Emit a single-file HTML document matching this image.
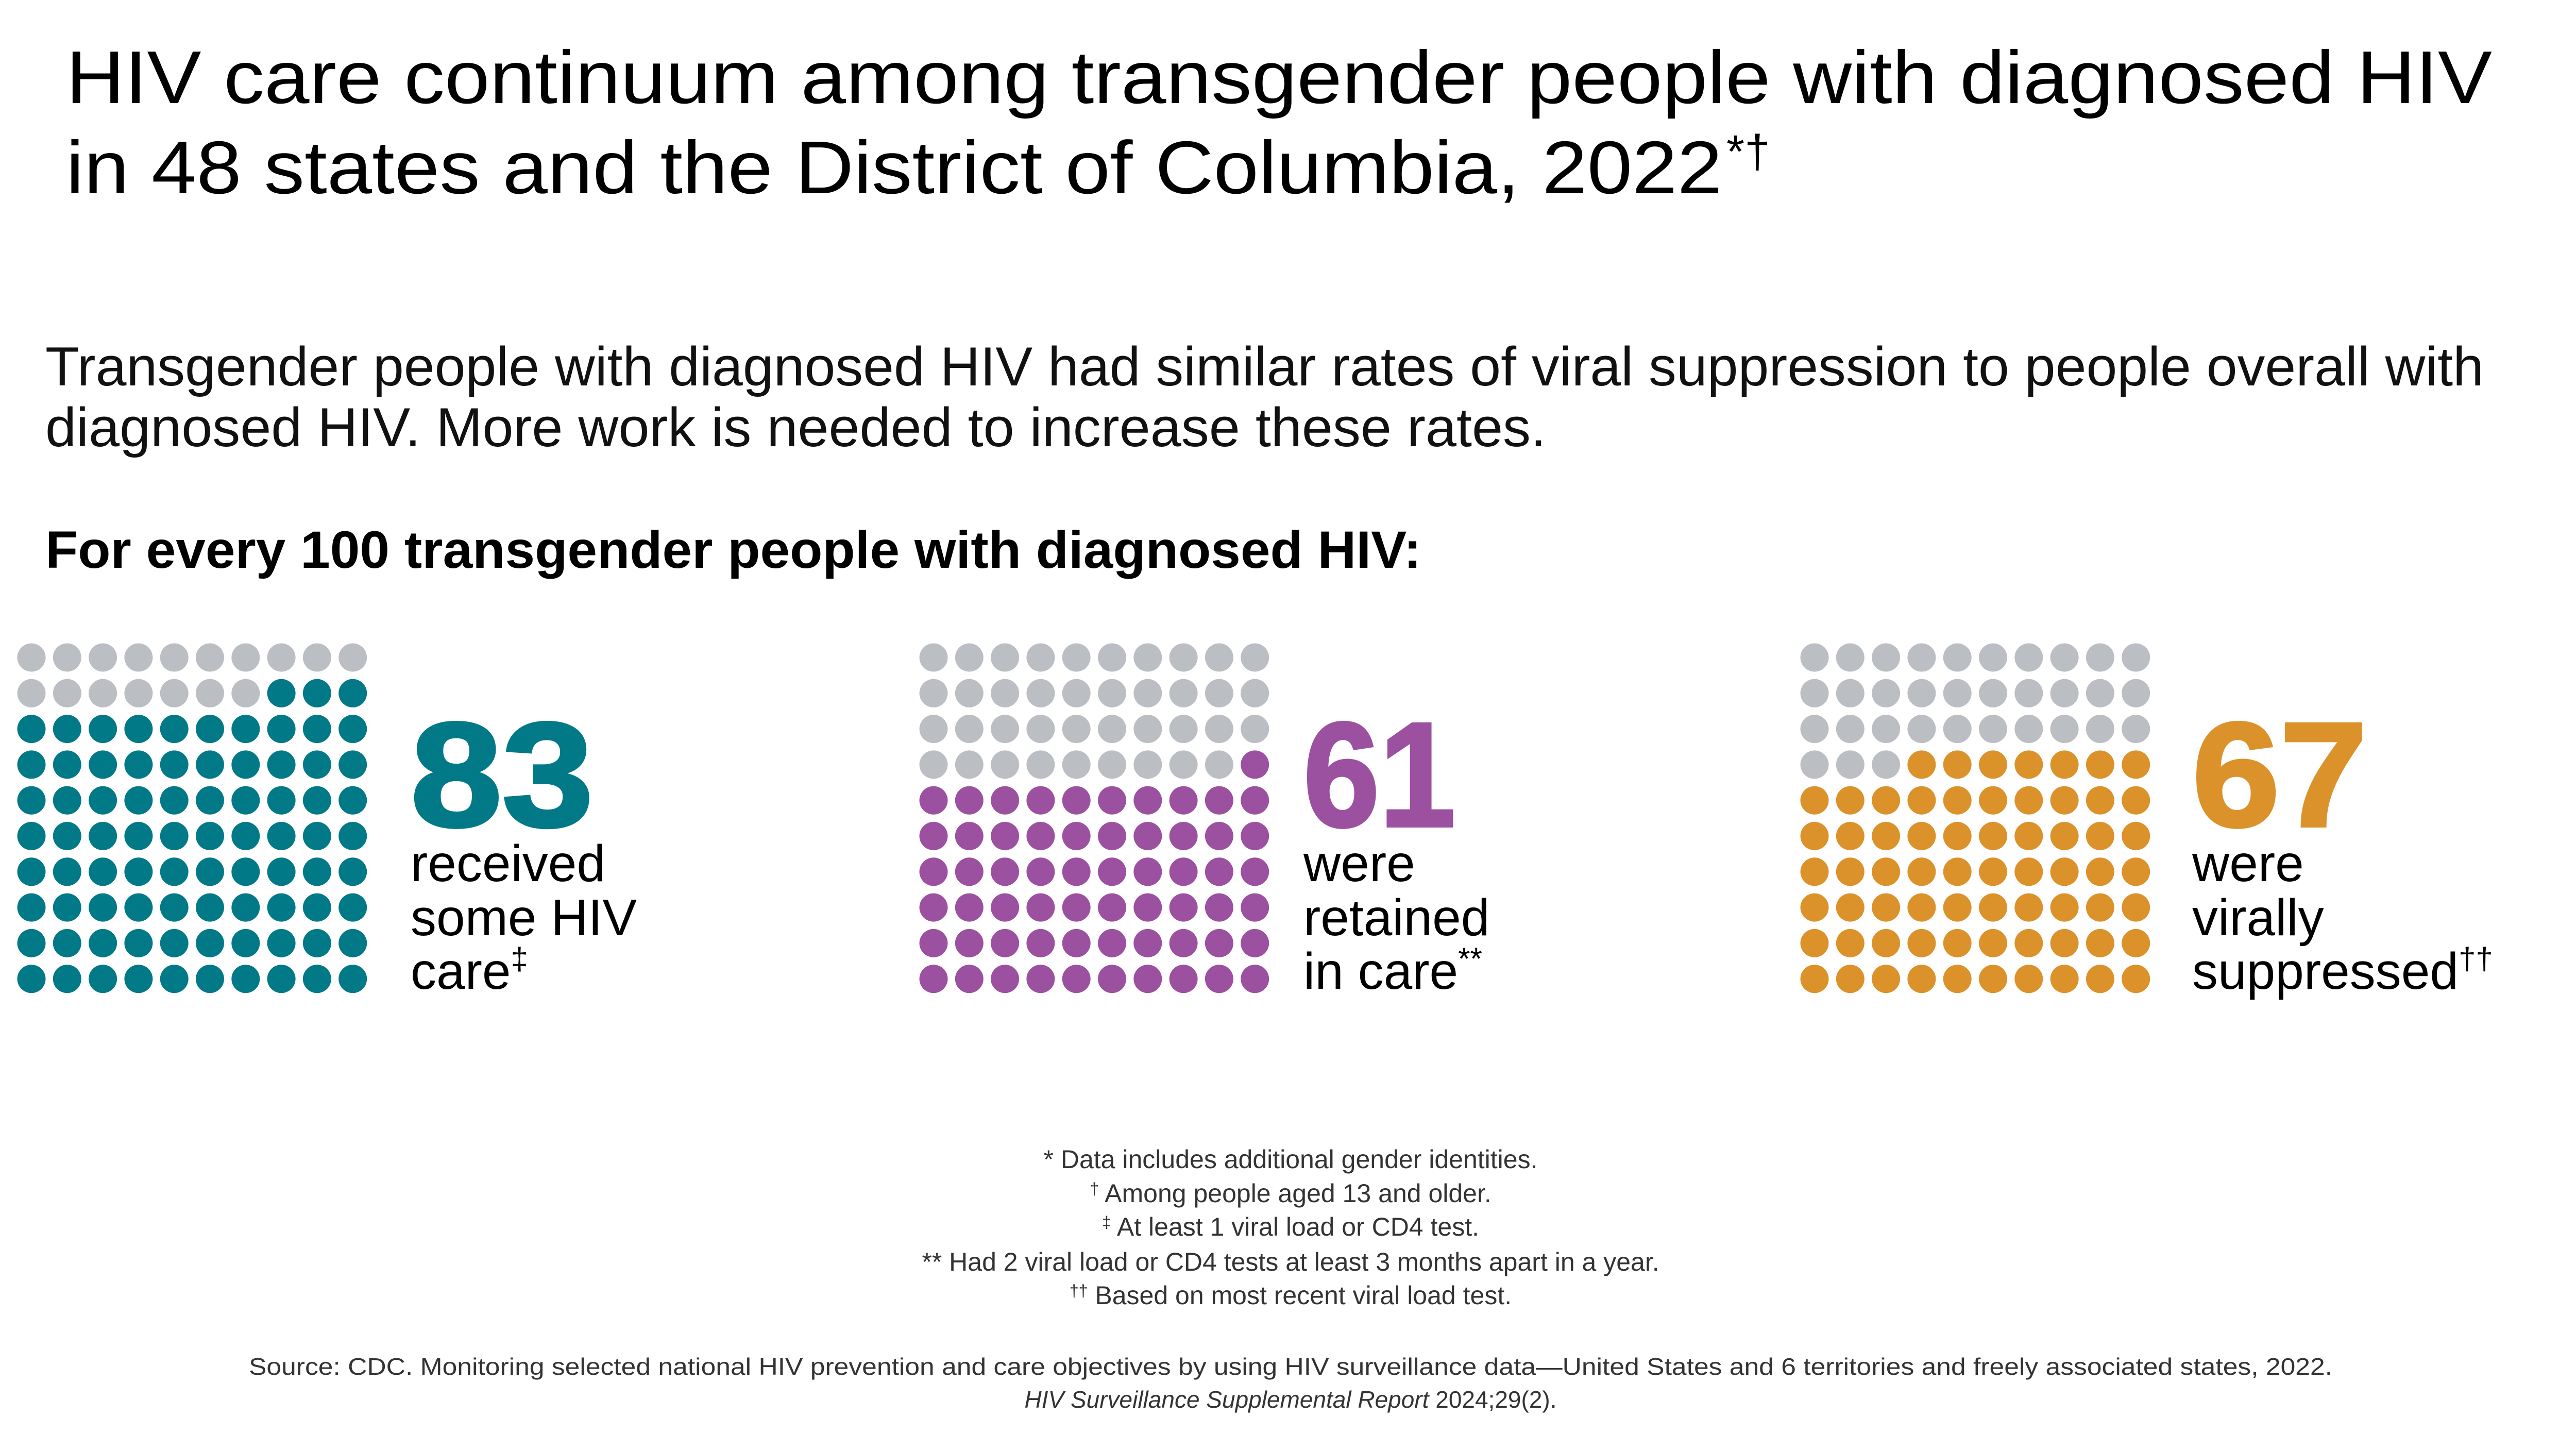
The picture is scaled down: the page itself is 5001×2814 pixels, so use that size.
<!DOCTYPE html>
<html><head><meta charset="utf-8"><style>
html,body{margin:0;padding:0;background:#fff;}
svg{display:block;font-family:"Liberation Sans",sans-serif;}
</style></head><body>
<svg id="chart" width="5001" height="2814" viewBox="0 0 5001 2814">
<rect width="5001" height="2814" fill="#fff"/>
<g fill="#000" font-size="145">
<text x="128" y="200" textLength="4709" lengthAdjust="spacingAndGlyphs">HIV care continuum among transgender people with diagnosed HIV</text>
<text x="128" y="375" textLength="3215" lengthAdjust="spacingAndGlyphs">in 48 states and the District of Columbia, 2022</text>
<text x="3351" y="325" font-size="90">*†</text>
</g>
<g fill="#111" font-size="107">
<text x="88" y="748" textLength="4733" lengthAdjust="spacingAndGlyphs">Transgender people with diagnosed HIV had similar rates of viral suppression to people overall with</text>
<text x="88" y="866" textLength="2913" lengthAdjust="spacingAndGlyphs">diagnosed HIV. More work is needed to increase these rates.</text>
</g>
<text x="88" y="1102" font-size="102" font-weight="bold" fill="#000" textLength="2671" lengthAdjust="spacingAndGlyphs">For every 100 transgender people with diagnosed HIV:</text>
<g id="panels"></g>
<g fill="#333" font-size="50" text-anchor="middle">
<text x="2505" y="2267">* Data includes additional gender identities.</text>
<text x="2505" y="2333"><tspan font-size="32" dy="-15">†</tspan><tspan dy="15"> Among people aged 13 and older.</tspan></text>
<text x="2505" y="2398"><tspan font-size="32" dy="-15">‡</tspan><tspan dy="15"> At least 1 viral load or CD4 test.</tspan></text>
<text x="2505" y="2466">** Had 2 viral load or CD4 tests at least 3 months apart in a year.</text>
<text x="2505" y="2531"><tspan font-size="32" dy="-15">††</tspan><tspan dy="15"> Based on most recent viral load test.</tspan></text>
<text x="2505" y="2668" font-size="46" textLength="4044" lengthAdjust="spacingAndGlyphs">Source: CDC. Monitoring selected national HIV prevention and care objectives by using HIV surveillance data—United States and 6 territories and freely associated states, 2022.</text>
<text x="2505" y="2732" font-size="46"><tspan font-style="italic">HIV Surveillance Supplemental Report</tspan> 2024;29(2).</text>
</g>
</svg>
<script>
const categories = ["received-care", "retained-in-care", "virally-suppressed"];
const values = [83, 61, 67];
const totalPerPanel = 100;
const colors = ["#027986", "#9b51a0", "#dc922b"];
const labelLines = [["received", "some HIV", "care"], ["were", "retained", "in care"], ["were", "virally", "suppressed"]];
const labelMarks = ["‡", "**", "††"];

const NS = "http://www.w3.org/2000/svg";
const panelX = [61, 1812, 3522];
const textX = [797, 2530, 4255];
const numW = [355, 295, 340];
const gridY0 = 1276, step = 69.3, r = 27.5;
const root = document.getElementById("panels");
function mk(tag, attrs){const e=document.createElementNS(NS,tag);for(const k in attrs)e.setAttribute(k,attrs[k]);return e;}
values.forEach((v, p) => {
  const g = mk("g", {});
  
  
  root.appendChild(g);
  for (let i = 0; i < totalPerPanel; i++) {
    const row = Math.floor(i / 10), col = i % 10;
    const fromEnd = totalPerPanel - 1 - i;
    const filled = fromEnd < v;
    const c = mk("circle", {cx: panelX[p] + col * step, cy: gridY0 + row * step, r: r, fill: filled ? colors[p] : "#bbbec2"});
    
    
    g.appendChild(c);
  }
  const tx = textX[p];
  const num = mk("text", {x: tx, y: 1603, "font-size": 288, "font-weight": "bold", fill: colors[p], textLength: numW[p], lengthAdjust: "spacingAndGlyphs", stroke: colors[p], "stroke-width": 6});
  num.textContent = String(v);
  
  
  g.appendChild(num);
  const lineY = [1710, 1815, 1919];
  labelLines[p].forEach((ln, li) => {
    const t = mk("text", {x: tx, y: lineY[li], "font-size": 100, fill: "#000"});
    t.textContent = ln;
    if (li === 2) {
      const s = mk("tspan", {"font-size": 60, dy: -38});
      s.textContent = labelMarks[p];
      t.appendChild(s);
    }
    
    
    g.appendChild(t);
  });
});
</script>
</body></html>
